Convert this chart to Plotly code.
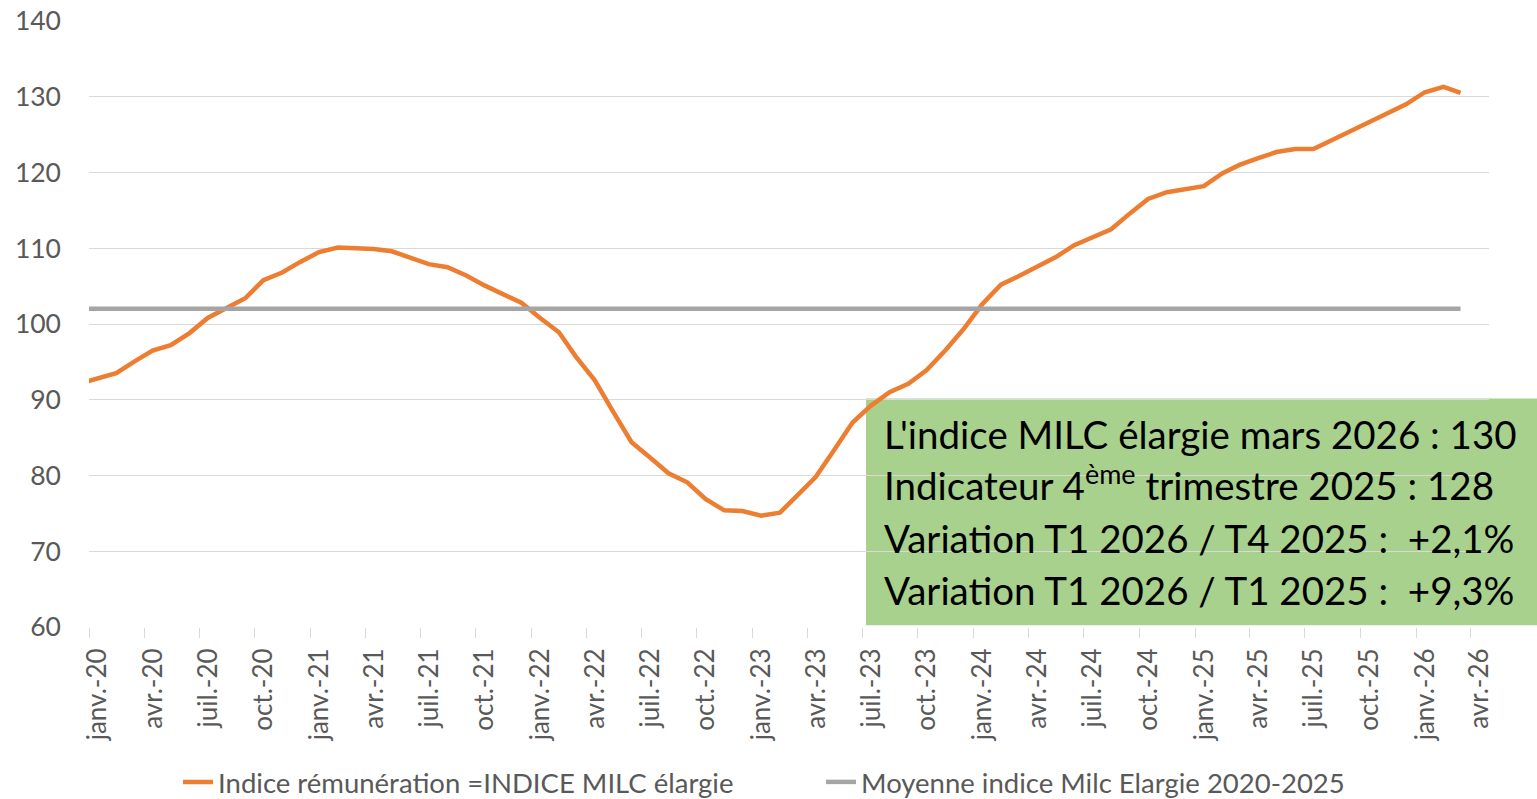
import plotly.graph_objects as go
import pandas as pd

# indice MILC élargie, valeurs mensuelles déc. 2019 -> mars 2026
indice_milc = [
    92.1,
    92.8, 93.5, 95.0, 96.5, 97.2, 98.8, 100.8, 102.1, 103.4, 105.8, 106.8, 108.2,
    109.5, 110.1, 110.0, 109.9, 109.6, 108.7, 107.9, 107.5, 106.4, 105.1, 104.0, 102.8,
    100.8, 98.9, 95.7, 92.6, 88.5, 84.4, 82.4, 80.3, 79.1, 76.9, 75.4, 75.3,
    74.7, 75.1, 77.3, 79.8, 83.3, 87.0, 89.2, 91.0, 92.1, 93.9, 96.5, 99.3,
    102.6, 105.2, 106.3, 107.5, 108.8, 110.4, 111.5, 112.5, 114.6, 116.5, 117.4, 117.8,
    118.2, 119.9, 121.0, 121.9, 122.7, 123.1, 123.1, 124.3, 125.5, 126.8, 128.0, 129.0,
    130.6, 131.3, 130.5,
]
moyenne_2020_2025 = 102.0

tick_labels = [
    "janv.-20", "avr.-20", "juil.-20", "oct.-20",
    "janv.-21", "avr.-21", "juil.-21", "oct.-21",
    "janv.-22", "avr.-22", "juil.-22", "oct.-22",
    "janv.-23", "avr.-23", "juil.-23", "oct.-23",
    "janv.-24", "avr.-24", "juil.-24", "oct.-24",
    "janv.-25", "avr.-25", "juil.-25", "oct.-25",
    "janv.-26", "avr.-26",
]

encadre = [
    "L'indice MILC élargie mars 2026 : 130",
    "Indicateur 4<sup>ème</sup> trimestre 2025 : 128",
    "Variation T1 2026 / T4 2025 :  +2,1%",
    "Variation T1 2026 / T1 2025 :  +9,3%",
]

# points placés en milieu de mois
dates = pd.date_range("2019-12-01", periods=len(indice_milc), freq="MS") + pd.Timedelta(days=14)
tick_vals = pd.date_range("2020-01-01", periods=len(tick_labels), freq="3MS")

grey_txt = "#595959"
font = "Lato"

fig = go.Figure()
fig.add_trace(go.Scatter(
    x=dates, y=indice_milc, mode="lines",
    name="Indice rémunération =INDICE MILC élargie",
    line=dict(color="#ED7D31", width=4.5),
))
fig.add_trace(go.Scatter(
    x=dates, y=[moyenne_2020_2025] * len(dates), mode="lines",
    name="Moyenne indice Milc Elargie 2020-2025",
    line=dict(color="#A5A5A5", width=4.5),
))

# encadré vert
fig.add_shape(type="rect", xref="paper", yref="paper",
              x0=0.555, x1=1.05, y0=0.003, y1=0.377,
              fillcolor="#A9D18E", line_width=0, layer="below")
y_lignes = [0.3185, 0.2377, 0.1469, 0.0611]
for ligne, y in zip(encadre, y_lignes):
    fig.add_annotation(
        xref="paper", yref="paper", x=0.5665, y=y,
        xanchor="left", yanchor="middle", align="left", showarrow=False,
        text=ligne,
        font=dict(family=font, size=38.5, color="#000000"),
    )

fig.update_layout(
    width=1537, height=799,
    margin=dict(l=89, r=48, t=21, b=172, autoexpand=False),
    paper_bgcolor="white", plot_bgcolor="rgba(0,0,0,0)",
    font=dict(family=font, color=grey_txt),
    showlegend=True,
    legend=dict(
        orientation="h", x=0.0636, y=-0.2558, xanchor="left", yanchor="middle",
        font=dict(size=27.5, color=grey_txt),
        entrywidth=598, entrywidthmode="pixels",
        bgcolor="rgba(0,0,0,0)",
    ),
    xaxis=dict(
        type="date", range=["2020-01-01", "2026-05-01"],
        tickmode="array", tickvals=tick_vals, ticktext=tick_labels,
        tickangle=-90, tickfont=dict(size=26, color=grey_txt),
        ticks="outside", ticklen=10, tickcolor="#D9D9D9", tickwidth=1,
        ticklabelshift=9, automargin=False,
        showgrid=False, showline=False, zeroline=False,
    ),
    yaxis=dict(
        range=[60, 140], dtick=10,
        tickfont=dict(size=26.5, color=grey_txt),
        showgrid=True, gridcolor="#D9D9D9", gridwidth=1, automargin=False,
        zeroline=False, showline=False, ticks="", ticklabelstandoff=27,
        ticklabeloverflow="allow",
    ),
)

# pas de marge autour de la figure dans la page
fig.write_html("out.html", config={"displayModeBar": False},
               post_script="document.body.style.margin='0';")
